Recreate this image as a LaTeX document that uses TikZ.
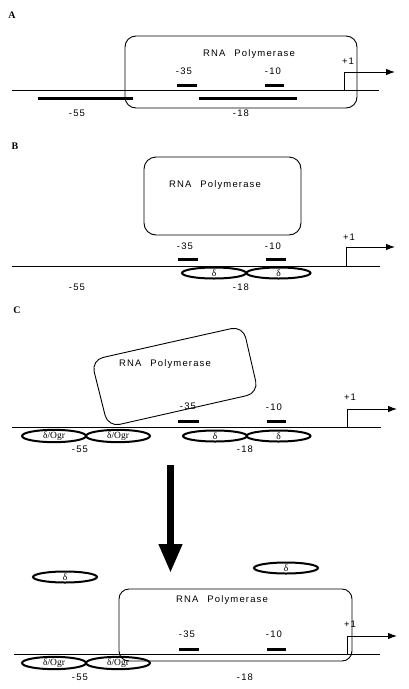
\documentclass[tikz,border=0pt]{standalone}
\usepackage{fontspec}
\setmainfont{Liberation Serif}
\newfontfamily\hv{Liberation Sans}[LetterSpace=12]
\usetikzlibrary{arrows.meta,shapes.geometric}
\newcommand{\rnapol}{RNA\hspace{9pt}Polymerase}
\begin{document}
\begin{tikzpicture}[x=1pt,y=-1pt,
  dna/.style={line width=0.8pt},
  bar/.style={line width=3pt},
  poly/.style={draw, rounded corners=11pt, line width=0.9pt, inner sep=0pt},
  lbl/.style={font=\hv\fontsize{9.5}{10}\selectfont, inner sep=0pt},
  dlt/.style={draw, ellipse, line width=2pt, minimum width=64pt, minimum height=11pt, inner sep=0pt, font=\fontsize{9.5}{9.5}\selectfont},
  panel/.style={font=\bfseries\fontsize{10}{10}\selectfont, inner sep=0pt},
  prom/.style={line width=0.9pt, -{Latex[length=9pt,width=6.5pt]}},
  bigarrow/.style={line width=7pt, -{Triangle[length=29pt,width=22pt]}}
]
\useasboundingbox (0,0) rectangle (408,689);

% ---------------- Panel A ----------------
\node[panel] (labA) at (12,15) {A};
\node[poly, minimum width=232pt, minimum height=72pt] (polA) at (241,72) {};
\node[lbl] (tpA) at (249,54) {\rnapol};
\coordinate (dA0) at (12,90); \coordinate (dA1) at (379,90);
\draw[dna] (dA0) -- (dA1);
\coordinate (bA1) at (177,85); \coordinate (bA2) at (197,85);
\coordinate (bA3) at (265,85); \coordinate (bA4) at (284,85);
\draw[bar] (bA1) -- (bA2); \draw[bar] (bA3) -- (bA4);
\coordinate (tA1) at (38,98); \coordinate (tA2) at (133,98);
\coordinate (tA3) at (199,98); \coordinate (tA4) at (297,98);
\draw[bar] (tA1) -- (tA2); \draw[bar] (tA3) -- (tA4);
\coordinate (pA0) at (344,90); \coordinate (pA1) at (395,72);
\draw[prom] (pA0) |- (pA1);
\node[lbl] (m35A) at (184,71) {-35};
\node[lbl] (m10A) at (273,71) {-10};
\node[lbl] (p1A) at (348,61) {+1};
\node[lbl] (m55A) at (77,113) {-55};
\node[lbl] (m18A) at (241,113) {-18};

% ---------------- Panel B ----------------
\node[panel] (labB) at (15,146) {B};
\node[poly, rounded corners=12pt, minimum width=157pt, minimum height=78pt] (polB) at (222.5,196) {};
\node[lbl] (tpB) at (215,185) {\rnapol};
\coordinate (dB0) at (12,266); \coordinate (dB1) at (380,266);
\draw[dna] (dB0) -- (dB1);
\coordinate (bB1) at (178,259); \coordinate (bB2) at (198,259);
\coordinate (bB3) at (266,259); \coordinate (bB4) at (286,259);
\draw[bar] (bB1) -- (bB2); \draw[bar] (bB3) -- (bB4);
\coordinate (pB0) at (346,266); \coordinate (pB1) at (395,247);
\draw[prom] (pB0) |- (pB1);
\node[dlt] (eB1) at (214,273) {δ};
\node[dlt] (eB2) at (278.5,273) {δ};
\node[lbl] (m35B) at (185,246) {-35};
\node[lbl] (m10B) at (273,246) {-10};
\node[lbl] (p1B) at (349,237) {+1};
\node[lbl] (m55B) at (77,287) {-55};
\node[lbl] (m18B) at (241,287) {-18};

% ---------------- Panel C ----------------
\node[panel] (labC) at (17,310) {C};
\coordinate (cTL) at (91.3,360.1);
\coordinate (cTR) at (243,326);
\coordinate (cBR) at (258.4,393);
\coordinate (cBL) at (108,427);
\coordinate (cTM) at (167,343);
\draw[line width=0.9pt, rounded corners=12pt] (cTM) -- (cTR) -- (cBR) -- (cBL) -- (cTL) -- cycle;
\node[lbl] (tpC) at (165,364) {\rnapol};
\coordinate (dC0) at (12,427); \coordinate (dC1) at (381,427);
\draw[dna] (dC0) -- (dC1);
\coordinate (bC1) at (178,421); \coordinate (bC2) at (199,421);
\coordinate (bC3) at (267,421); \coordinate (bC4) at (286,421);
\draw[bar] (bC1) -- (bC2); \draw[bar] (bC3) -- (bC4);
\coordinate (pC0) at (347,427); \coordinate (pC1) at (397,409);
\draw[prom] (pC0) |- (pC1);
\node[dlt] (eC1) at (54,436) {δ/Ogr};
\node[dlt] (eC2) at (118,436) {δ/Ogr};
\node[dlt] (eC3) at (215,436) {δ};
\node[dlt] (eC4) at (278.5,436) {δ};
\node[lbl] (m35C) at (188,406) {-35};
\node[lbl] (m10C) at (274,407) {-10};
\node[lbl] (p1C) at (350,397) {+1};
\node[lbl] (m55C) at (80,449) {-55};
\node[lbl] (m18C) at (245,449) {-18};

% ---------------- big arrow ----------------
\coordinate (bigS) at (170.5,465); \coordinate (bigE) at (170.5,573);
\draw[bigarrow] (bigS) -- (bigE);

% ---------------- Panel D ----------------
\node[dlt] (eD1) at (65,577) {δ};
\node[dlt] (eD2) at (286,568) {δ};
\node[poly, rounded corners=10pt, minimum width=233pt, minimum height=72pt] (polD) at (235.5,625) {};
\node[lbl] (tpD) at (222,600) {\rnapol};
\coordinate (dD0) at (14,654); \coordinate (dD1) at (380,654);
\draw[dna] (dD0) -- (dD1);
\coordinate (bD1) at (179,649); \coordinate (bD2) at (199,649);
\coordinate (bD3) at (267,649); \coordinate (bD4) at (286,649);
\draw[bar] (bD1) -- (bD2); \draw[bar] (bD3) -- (bD4);
\coordinate (pD0) at (347,654); \coordinate (pD1) at (397,636);
\draw[prom] (pD0) |- (pD1);
\node[dlt] (eD3) at (54,663) {δ/Ogr};
\node[dlt] (eD4) at (118,663) {δ/Ogr};
\node[lbl] (m35D) at (187,634) {-35};
\node[lbl] (m10D) at (274,634) {-10};
\node[lbl] (p1D) at (350,624) {+1};
\node[lbl] (m55D) at (80,677) {-55};
\node[lbl] (m18D) at (245,677) {-18};
\end{tikzpicture}
\end{document}
